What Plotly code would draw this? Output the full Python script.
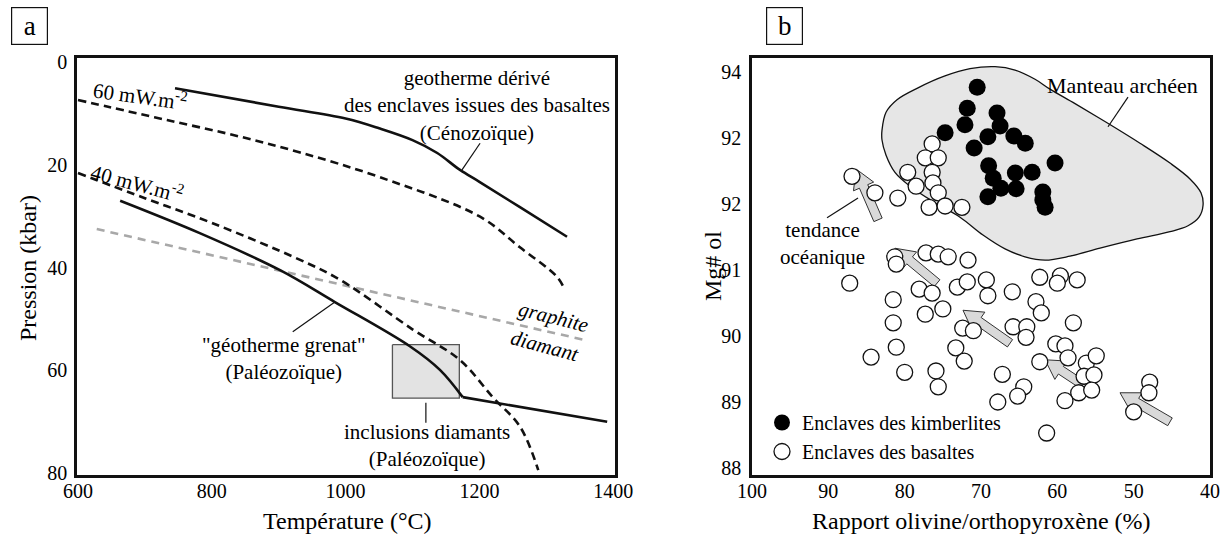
import math
import plotly.graph_objects as go

W, H = 1228, 544
FONT = "Liberation Serif"

# ---------------- Panel a data (Temperature °C, Pressure kbar) ----------------
ceno_T = [745, 900, 1000, 1050, 1100, 1137, 1171, 1200, 1260, 1331]
ceno_P = [5.1, 8.7, 11.0, 12.9, 15.2, 17.7, 21.0, 23.3, 28.2, 34.0]
g60_T = [600, 648, 733, 832, 932, 1051, 1201, 1260, 1316, 1328]
g60_P = [7.4, 8.8, 11.3, 14.2, 17.6, 22.4, 30.1, 36.0, 41.8, 44.4]
g40_T = [600, 700, 800, 932, 992, 1101, 1171, 1220, 1261, 1288]
g40_P = [21.6, 26.5, 31.3, 38.5, 42.4, 52.1, 58.0, 65.2, 71.0, 79.4]
paleo_T = [663, 782, 902, 984, 1096, 1141, 1175]
paleo_P = [27.0, 33.3, 40.5, 46.7, 55.3, 59.9, 65.2]
paleo2_T = [1175, 1391]
paleo2_P = [65.2, 70.0]
gd_T = [628, 1358]
gd_P = [32.5, 54.1]
incl_T = [1070, 1170]
incl_P = [55.0, 65.4]
a_xticks = [600, 800, 1000, 1200, 1400]
a_yticks = [0, 20, 40, 60, 80]

# ---------------- Panel b data (olivine/opx %, Mg# ol) ----------------
kimb_x = [70.5, 71.8, 72.1, 74.7, 67.9, 67.5, 69.1, 65.7, 64.2, 70.9, 60.3,
          69.0, 68.4, 65.5, 63.3, 67.4, 65.4, 69.1, 61.9, 61.9, 61.6]
kimb_y = [93.77, 93.45, 93.20, 93.08, 93.38, 93.18, 93.02, 93.03, 92.92, 92.85, 92.62,
          92.58, 92.39, 92.47, 92.48, 92.24, 92.23, 92.11, 92.18, 92.06, 91.95]

bas_x = [86.9, 83.9, 80.9, 79.6, 78.5, 76.4, 77.3, 75.6, 76.4, 76.3, 75.6, 76.8, 74.7, 72.5,
         81.3, 81.1, 77.2, 75.6, 74.3, 71.7, 87.2, 78.1, 76.4, 81.5, 73.1, 71.8, 69.3, 69.1,
         65.9, 75.0, 77.3, 81.5, 72.4, 71.0, 65.8, 64.0, 64.1, 81.1, 84.4, 73.3, 72.2, 80.0,
         75.9, 75.6, 67.2, 64.4, 65.2, 67.8,
         62.3, 59.6, 60.0, 57.4, 62.8, 62.1, 57.9, 60.2, 59.0, 58.6, 62.3, 56.2, 54.9, 56.5,
         55.2, 57.2, 55.5, 59.0, 47.9, 48.0, 50.0, 61.4]
bas_y = [92.42, 92.17, 92.09, 92.48, 92.27, 92.91, 92.70, 92.70, 92.48, 92.32, 92.17, 91.95, 91.97, 91.95,
         91.20, 91.09, 91.26, 91.24, 91.20, 91.15, 90.80, 90.71, 90.65, 90.55, 90.74, 90.82, 90.85, 90.61,
         90.67, 90.41, 90.33, 90.20, 90.12, 90.08, 90.14, 90.14, 89.98, 89.83, 89.68, 89.82, 89.62, 89.45,
         89.47, 89.23, 89.42, 89.23, 89.09, 89.00,
         90.89, 90.91, 90.80, 90.85, 90.52, 90.35, 90.20, 89.88, 89.85, 89.67, 89.61, 89.59, 89.70, 89.39,
         89.41, 89.14, 89.18, 89.02, 89.30, 89.14, 88.85, 88.53]

manteau_x = [82.97, 82.44, 81.0, 78.25, 74.72, 71.44, 68.16, 65.54, 62.92, 60.96, 57.68, 53.49,
             49.17, 45.24, 42.62, 41.18, 40.91, 41.44, 42.88, 45.24, 49.56, 54.41, 58.34, 61.61,
             64.23, 66.85, 69.74, 72.75, 76.03, 79.30, 81.27, 82.44, 82.97, 82.97]
manteau_y = [93.12, 93.39, 93.58, 93.76, 93.94, 94.05, 94.08, 94.03, 93.89, 93.74, 93.52, 93.23,
             92.92, 92.62, 92.38, 92.17, 91.98, 91.80, 91.67, 91.58, 91.47, 91.33, 91.21, 91.15,
             91.20, 91.32, 91.53, 91.80, 92.02, 92.27, 92.48, 92.74, 92.97, 93.12]

arrow_tip_x = [86.37, 81.27, 72.36, 61.61, 51.79]
arrow_tip_y = [92.53, 91.33, 90.39, 89.64, 89.14]
arrow_tail_x = [83.49, 75.76, 66.20, 56.64, 45.24]
arrow_tail_y = [91.76, 90.80, 89.89, 89.26, 88.70]

b_yticks = [88, 89, 90, 91, 92, 93, 94]
b_yticktext = ["88", "89", "90", "91", "92", "92", "94"]
b_xticks = [100, 90, 80, 70, 60, 50, 40]

# ---------------- layout geometry ----------------
A_XDOM = [77 / W, 615 / W]
B_XDOM = [752 / W, 1210 / W]
YDOM = [1 - 475 / H, 1 - 58 / H]
A_XR = [598.5, 1402.7]
A_YR = [80.35, -0.78]
B_XR = [100, 40]
B_YR = [87.894, 94.212]

fig = go.Figure()

BLACK = "#111111"
dash_black = "8px,5px"

# ----- panel a traces -----
fig.add_trace(go.Scatter(x=[incl_T[0], incl_T[1], incl_T[1], incl_T[0], incl_T[0]],
                         y=[incl_P[0], incl_P[0], incl_P[1], incl_P[1], incl_P[0]],
                         fill="toself", fillcolor="#e3e3e3", mode="lines",
                         line=dict(color="#555555", width=1.3), xaxis="x", yaxis="y"))
fig.add_trace(go.Scatter(x=gd_T, y=gd_P, mode="lines",
                         line=dict(color="#a8a8a8", width=2.6, dash="8px,6px"), xaxis="x", yaxis="y"))
fig.add_trace(go.Scatter(x=g60_T, y=g60_P, mode="lines", line_shape="spline",
                         line=dict(color=BLACK, width=2.6, dash=dash_black), xaxis="x", yaxis="y"))
fig.add_trace(go.Scatter(x=g40_T, y=g40_P, mode="lines", line_shape="spline",
                         line=dict(color=BLACK, width=2.6, dash=dash_black), xaxis="x", yaxis="y"))
fig.add_trace(go.Scatter(x=ceno_T, y=ceno_P, mode="lines", line_shape="spline",
                         line=dict(color=BLACK, width=2.6), xaxis="x", yaxis="y"))
fig.add_trace(go.Scatter(x=paleo_T, y=paleo_P, mode="lines", line_shape="spline",
                         line=dict(color=BLACK, width=2.6), xaxis="x", yaxis="y"))
fig.add_trace(go.Scatter(x=paleo2_T, y=paleo2_P, mode="lines",
                         line=dict(color=BLACK, width=2.6), xaxis="x", yaxis="y"))

# leader lines panel a
for lx, ly in [([1201, 1174], [15.8, 21.0]), ([921, 984], [52.5, 46.7]), ([1120, 1120], [66.3, 70.2])]:
    fig.add_trace(go.Scatter(x=lx, y=ly, mode="lines", line=dict(color=BLACK, width=1.2),
                             xaxis="x", yaxis="y"))

# ----- panel b traces -----
fig.add_trace(go.Scatter(x=manteau_x, y=manteau_y, mode="lines", line_shape="spline",
                         fill="toself", fillcolor="#e6e6e6", line=dict(color=BLACK, width=1.3),
                         xaxis="x2", yaxis="y2"))

# arrows (block arrows built in screen space from tip/tail values)
bw = (B_XDOM[1] - B_XDOM[0]) * W
bh = (YDOM[1] - YDOM[0]) * H
sx = bw / (B_XR[0] - B_XR[1])   # px per unit (x reversed)
sy = bh / (B_YR[1] - B_YR[0])


def to_px(X, Y):
    return (B_XR[0] - X) * sx, (B_YR[1] - Y) * sy


def to_data(u, v):
    return B_XR[0] - u / sx, B_YR[1] - v / sy


def arrow_poly(tip, tail, shaft=9.0, head_w=22.0, head_l=19.0):
    tu, tv = to_px(*tip)
    au, av = to_px(*tail)
    L = math.hypot(tu - au, tv - av)
    du, dv = (tu - au) / L, (tv - av) / L
    nu, nv = -dv, du
    nku, nkv = tu - du * head_l, tv - dv * head_l
    pts = [(au + nu * shaft / 2, av + nv * shaft / 2),
           (nku + nu * shaft / 2, nkv + nv * shaft / 2),
           (nku + nu * head_w / 2, nkv + nv * head_w / 2),
           (tu, tv),
           (nku - nu * head_w / 2, nkv - nv * head_w / 2),
           (nku - nu * shaft / 2, nkv - nv * shaft / 2),
           (au - nu * shaft / 2, av - nv * shaft / 2)]
    pts.append(pts[0])
    xs, ys = zip(*[to_data(u, v) for u, v in pts])
    return list(xs), list(ys)


for i in range(len(arrow_tip_x)):
    ax_, ay_ = arrow_poly((arrow_tip_x[i], arrow_tip_y[i]), (arrow_tail_x[i], arrow_tail_y[i]))
    fig.add_trace(go.Scatter(x=ax_, y=ay_, mode="lines", fill="toself", fillcolor="#d9d9d9",
                             line=dict(color="#333333", width=1), xaxis="x2", yaxis="y2"))

# leader lines panel b
for lx, ly in [([90.17, 86.11], [91.79, 92.09]), ([53.36, 50.74], [93.17, 93.62])]:
    fig.add_trace(go.Scatter(x=lx, y=ly, mode="lines", line=dict(color=BLACK, width=1.2),
                             xaxis="x2", yaxis="y2"))

fig.add_trace(go.Scatter(x=bas_x, y=bas_y, mode="markers", name="Enclaves des basaltes",
                         marker=dict(size=16, color="white", line=dict(color=BLACK, width=1.3)),
                         xaxis="x2", yaxis="y2", showlegend=True, legendrank=2))
fig.add_trace(go.Scatter(x=kimb_x, y=kimb_y, mode="markers", name="Enclaves des kimberlites",
                         marker=dict(size=17, color="black", line=dict(color="black", width=0)),
                         xaxis="x2", yaxis="y2", showlegend=True, legendrank=1))

for tr in fig.data:
    if tr.name is None:
        tr.showlegend = False
        tr.hoverinfo = "skip"

axis_common = dict(showgrid=False, zeroline=False, showline=True, mirror=True,
                   linecolor=BLACK, linewidth=2.6, ticks="", automargin=False,
                   tickfont=dict(family=FONT, size=20, color="black"))

fig.update_layout(
    width=W, height=H,
    margin=dict(l=0, r=0, t=0, b=0, autoexpand=False),
    paper_bgcolor="white", plot_bgcolor="white",
    font=dict(family=FONT, size=21, color="black"),
    xaxis=dict(domain=A_XDOM, range=A_XR, tickvals=a_xticks, anchor="y",
               ticklabelstandoff=-4, **axis_common),
    yaxis=dict(domain=YDOM, range=A_YR, tickvals=a_yticks, anchor="x",
               ticklabelstandoff=3, **axis_common),
    xaxis2=dict(domain=B_XDOM, range=B_XR, tickvals=b_xticks, anchor="y2",
                ticklabelstandoff=-4, **axis_common),
    yaxis2=dict(domain=YDOM, range=B_YR, tickvals=b_yticks, ticktext=b_yticktext, anchor="x2",
                ticklabelstandoff=4, **axis_common),
    legend=dict(x=762 / W, y=1 - 403 / H, xanchor="left", yanchor="top",
                bgcolor="rgba(0,0,0,0)", font=dict(family=FONT, size=20, color="black"),
                traceorder="normal", itemsizing="trace", tracegroupgap=0),
    showlegend=True,
)

ann = []


def txt(x, y, text, xref="x", yref="y", size=21, angle=0, **kw):
    ann.append(dict(x=x, y=y, xref=xref, yref=yref, text=text, showarrow=False,
                    xanchor="center", yanchor="middle",
                    textangle=angle, font=dict(family=FONT, size=size, color="black"), **kw))


# panel a labels
txt(1196, 8.4, "geotherme dérivé<br>des enclaves issues des basaltes<br>(Cénozoïque)")
txt(908, 57.6, "\"géotherme grenat\"<br>(Paléozoïque)")
txt(1122, 74.7, "inclusions diamants<br>(Paléozoïque)")
txt(693, 6.6, "60 mW.m<sup>-2</sup>", angle=8)
txt(688, 23.5, "40 mW.m<sup>-2</sup>", angle=15)
txt(1311, 49.6, "<i>graphite</i>", angle=14)
txt(1298, 55.3, "<i>diamant</i>", angle=15)

# panel b labels
txt(51.4, 93.80, "Manteau archéen", xref="x2", yref="y2", size=22)
txt(90.83, 91.40, "tendance<br>océanique", xref="x2", yref="y2")

# axis titles
txt(28 / W, 1 - 268 / H, "Pression (kbar)", xref="paper", yref="paper", size=24, angle=-90)
txt(347 / W, 1 - 521 / H, "Température (°C)", xref="paper", yref="paper", size=24)
txt(713 / W, 1 - 266 / H, "Mg# ol", xref="paper", yref="paper", size=24, angle=-90)
txt(981 / W, 1 - 521 / H, "Rapport olivine/orthopyroxène (%)", xref="paper", yref="paper", size=24)

# panel letters
txt(29.5 / W, 1 - 26 / H, "a", xref="paper", yref="paper", size=27, width=33, height=34,
    bordercolor=BLACK, borderwidth=1.2, borderpad=1)
txt(785 / W, 1 - 26 / H, "b", xref="paper", yref="paper", size=27, width=33, height=34,
    bordercolor=BLACK, borderwidth=1.2, borderpad=1)

fig.update_layout(annotations=ann)
fig.write_html("out.html", config={"displayModeBar": False},
               post_script="document.body.style.margin='0px';")
